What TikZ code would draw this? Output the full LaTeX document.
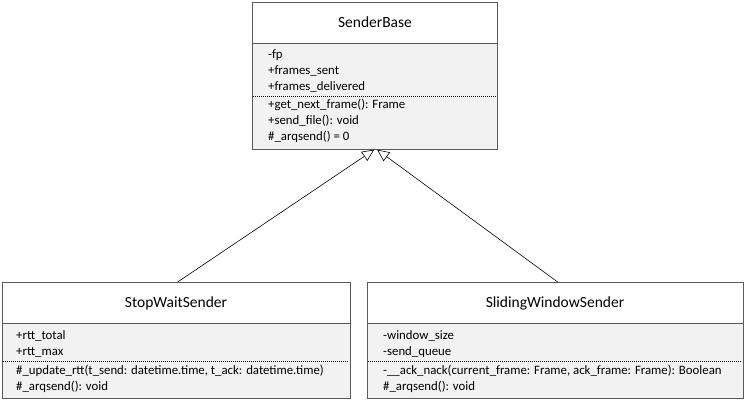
\documentclass[tikz,border=0pt]{standalone}
\usepackage{fontspec}
\setmainfont{Carlito}
\usetikzlibrary{arrows.meta}
\definecolor{bordergray}{HTML}{595959}
\definecolor{bodygray}{HTML}{F2F2F2}
\tikzset{
  classhead/.style={draw=bordergray, line width=1.3pt, fill=white, anchor=north west, inner sep=0pt},
  classbody/.style={draw=bordergray, line width=1.3pt, fill=bodygray, anchor=north west, inner sep=0pt},
  classtitle/.style={inner sep=0pt, font=\fontsize{15.5}{18}\selectfont},
  member/.style={anchor=west, inner sep=0pt, font=\fontsize{12.8}{15}\selectfont},
  sepline/.style={dash pattern=on 1pt off 1pt, line width=0.6pt, black},
  inherit/.style={line width=0.6pt, -{Triangle[open, length=12pt, width=11pt]}},
}
\begin{document}
\begin{tikzpicture}[x=1pt,y=-1pt]
\useasboundingbox (0,0) rectangle (747,402);
% SenderBase
\node[classbody, minimum width=245pt, minimum height=106pt] (sbb) at (252,43) {};
\node[classhead, minimum width=245pt, minimum height=41pt] (sbh) at (252,2) {};
\node[classtitle] (sbt) at (375,22.5) {SenderBase};
\draw[sepline] (253,96) -- (496,96);
\node[member] (sb1) at (268,55) {-fp};
\node[member] (sb2) at (268,71) {+frames\_sent};
\node[member] (sb3) at (268,87) {+frames\_delivered};
\node[member] (sb4) at (268,105) {+get\_next\_frame(): Frame};
\node[member] (sb5) at (268,121) {+send\_file(): void};
\node[member] (sb6) at (268,137) {\#\_arqsend() = 0};
% StopWaitSender
\node[classbody, minimum width=348pt, minimum height=75pt] (swb) at (2,323) {};
\node[classhead, minimum width=348pt, minimum height=41pt] (swh) at (2,282) {};
\node[classtitle] (swt) at (176,303) {StopWaitSender};
\draw[sepline] (3,361) -- (349,361);
\node[member] (sw1) at (16,336) {+rtt\_total};
\node[member] (sw2) at (16,352) {+rtt\_max};
\node[member] (sw3) at (16,370.5) {\#\_update\_rtt(t\_send: datetime.time, t\_ack: datetime.time)};
\node[member] (sw4) at (16,386.5) {\#\_arqsend(): void};
% SlidingWindowSender
\node[classbody, minimum width=376pt, minimum height=75pt] (slb) at (367,323) {};
\node[classhead, minimum width=376pt, minimum height=41pt] (slh) at (367,282) {};
\node[classtitle] (slt) at (555,303) {SlidingWindowSender};
\draw[sepline] (368,361) -- (742,361);
\node[member] (sl1) at (383,336) {-window\_size};
\node[member] (sl2) at (383,352) {-send\_queue};
\node[member] (sl3) at (383,370.5) {-\_\_ack\_nack(current\_frame: Frame, ack\_frame: Frame): Boolean};
\node[member] (sl4) at (383,386.5) {\#\_arqsend(): void};
% inheritance
\draw[inherit] ([xshift=1pt]swh.north) -- ([xshift=-1pt,yshift=0.6pt]sbb.south);
\draw[inherit] ([xshift=2pt]slh.north) -- ([xshift=2pt,yshift=0.6pt]sbb.south);
\end{tikzpicture}
\end{document}
